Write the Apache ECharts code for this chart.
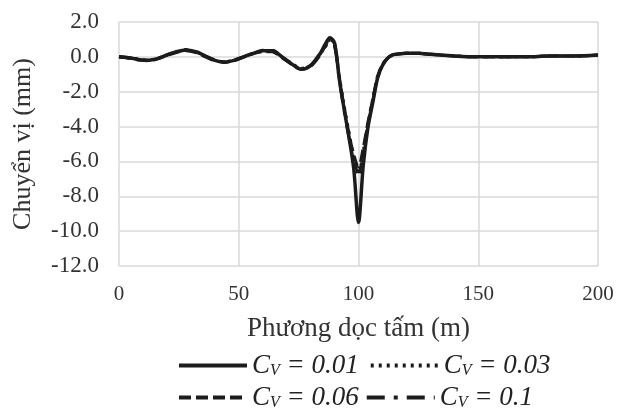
<!DOCTYPE html>
<html>
<head>
<meta charset="utf-8">
<script src="https://cdn.jsdelivr.net/npm/echarts@6/dist/echarts.min.js"></script>
<style>
  html, body { margin: 0; padding: 0; background: #fff; }
  #chart { width: 617px; height: 411px; }
</style>
</head>
<body>
<div id="chart"></div>
<script>
// x positions along the slab (m)
var xs = [0, 4, 8, 12, 16, 20, 24, 28, 32, 36, 40, 44, 48, 52, 56, 60, 64, 68, 72, 76, 80, 84,
  86, 88, 90, 92, 94, 96, 98, 100, 102, 104, 106, 108, 110, 112, 114, 116,
  120, 125, 130, 140, 150, 160, 170, 180, 190, 200];

// displacement (mm) for each C_V
var cv001 = [0.0, -0.05, -0.15, -0.2, -0.1, 0.1, 0.3, 0.4, 0.3, 0.05, -0.2, -0.3, -0.2, 0.0, 0.2, 0.35, 0.35, 0.0, -0.4, -0.7, -0.5, 0.2,
  0.7, 1.1, 0.8, -1.3, -3.0, -4.6, -6.4, -9.5, -6.2, -4.0, -2.6, -1.2, -0.5, -0.1, 0.1, 0.15,
  0.2, 0.2, 0.15, 0.05, 0.0, 0.0, 0.0, 0.05, 0.05, 0.1];
var cv003 = [0.0, -0.05, -0.12, -0.18, -0.1, 0.1, 0.28, 0.38, 0.28, 0.05, -0.18, -0.28, -0.2, 0.0, 0.2, 0.32, 0.3, 0.0, -0.35, -0.65, -0.5, 0.15,
  0.6, 0.95, 0.7, -1.1, -2.8, -4.3, -5.8, -6.8, -5.4, -3.8, -2.4, -1.1, -0.45, -0.1, 0.1, 0.15,
  0.2, 0.2, 0.15, 0.05, 0.0, 0.0, 0.0, 0.05, 0.05, 0.1];
var cv006 = [0.0, -0.08, -0.18, -0.22, -0.12, 0.08, 0.25, 0.35, 0.25, 0.0, -0.22, -0.32, -0.22, -0.02, 0.18, 0.3, 0.3, -0.05, -0.42, -0.72, -0.55, 0.1,
  0.6, 1.0, 0.75, -1.2, -2.9, -4.4, -5.6, -6.3, -5.2, -3.7, -2.4, -1.1, -0.45, -0.1, 0.1, 0.15,
  0.2, 0.2, 0.15, 0.05, 0.0, 0.0, 0.0, 0.05, 0.05, 0.1];
var cv01 = [0.0, -0.05, -0.14, -0.2, -0.1, 0.12, 0.3, 0.42, 0.32, 0.05, -0.2, -0.3, -0.2, 0.0, 0.22, 0.38, 0.38, 0.02, -0.38, -0.68, -0.5, 0.15,
  0.55, 0.85, 0.6, -1.3, -3.1, -4.6, -6.0, -6.6, -5.6, -3.9, -2.5, -1.2, -0.5, -0.1, 0.1, 0.15,
  0.2, 0.2, 0.15, 0.05, 0.0, 0.0, 0.0, 0.05, 0.05, 0.1];

var names = ['0.01', '0.03', '0.06', '0.1'];

function pairs(ys) {
  return xs.map(function (x, i) { return [x, ys[i]]; });
}

var font = 'Liberation Serif';
var ink = '#1c1c1c';
var gridColor = '#d9d9d9';

var legendText = {
  fontFamily: font,
  fontStyle: 'italic',
  fontSize: 27,
  color: '#222',
  rich: {
    c: { fontFamily: font, fontStyle: 'italic', fontSize: 27, color: '#222' },
    v: { fontFamily: font, fontStyle: 'italic', fontSize: 16, color: '#222', padding: [11, 0, 0, 0] },
    t: { fontFamily: font, fontStyle: 'italic', fontSize: 27, color: '#222' }
  }
};

function legendFmt(name) {
  return '{c|C}{v|V}{t| = ' + name + '}';
}

// hide the little circle ECharts puts on line legend icons
var noSymbol = { color: 'rgba(0,0,0,0)', borderWidth: 0, opacity: 0 };

var option = {
  animation: false,
  backgroundColor: '#fff',
  grid: { left: 119, right: 19, top: 22, bottom: 145 },
  legend: [
    {
      data: [names[0], names[1]],
      left: 177, top: 352, padding: 0,
      itemWidth: 68, itemHeight: 14, itemGap: 10,
      itemStyle: noSymbol,
      lineStyle: { width: 4 },
      formatter: legendFmt,
      textStyle: legendText
    },
    {
      data: [names[2], names[3]],
      left: 177, top: 384, padding: 0,
      itemWidth: 68, itemHeight: 14, itemGap: 6,
      itemStyle: noSymbol,
      lineStyle: { width: 4 },
      formatter: legendFmt,
      textStyle: legendText
    }
  ],
  xAxis: {
    type: 'value',
    min: 0, max: 200, interval: 50,
    name: 'Phương dọc tấm (m)',
    nameLocation: 'middle',
    nameGap: 49,
    nameTextStyle: { fontFamily: font, fontSize: 27, color: '#333' },
    axisLine: { show: false },
    axisTick: { show: false },
    axisLabel: { fontFamily: font, fontSize: 21, color: '#333', margin: 18 },
    splitLine: { show: true, lineStyle: { color: gridColor, width: 1.5 } }
  },
  yAxis: {
    type: 'value',
    min: -12, max: 2, interval: 2,
    name: 'Chuyển vị (mm)',
    nameLocation: 'middle',
    nameGap: 83,
    nameTextStyle: { fontFamily: font, fontSize: 26, color: '#333' },
    axisLine: { show: false },
    axisTick: { show: false },
    axisLabel: {
      fontFamily: font, fontSize: 23, color: '#333', margin: 20,
      formatter: function (v) { return v.toFixed(1); }
    },
    splitLine: { show: true, lineStyle: { color: gridColor, width: 1.5 } }
  },
  series: [
    {
      name: names[0], type: 'line', data: pairs(cv001), symbol: 'none',
      smooth: 0.3, z: 5,
      lineStyle: { color: ink, width: 3.5, type: 'solid' }, itemStyle: { color: ink }
    },
    {
      name: names[1], type: 'line', data: pairs(cv003), symbol: 'none',
      smooth: 0.3,
      lineStyle: { color: ink, width: 3, type: [3, 5] }, itemStyle: { color: ink }
    },
    {
      name: names[2], type: 'line', data: pairs(cv006), symbol: 'none',
      smooth: 0.3,
      lineStyle: { color: ink, width: 3, type: [12, 5] }, itemStyle: { color: ink }
    },
    {
      name: names[3], type: 'line', data: pairs(cv01), symbol: 'none',
      smooth: 0.3,
      lineStyle: { color: ink, width: 3, type: [18, 9, 4, 9] }, itemStyle: { color: ink }
    }
  ]
};

var chart = echarts.init(document.getElementById('chart'));
chart.setOption(option);
</script>
</body>
</html>
